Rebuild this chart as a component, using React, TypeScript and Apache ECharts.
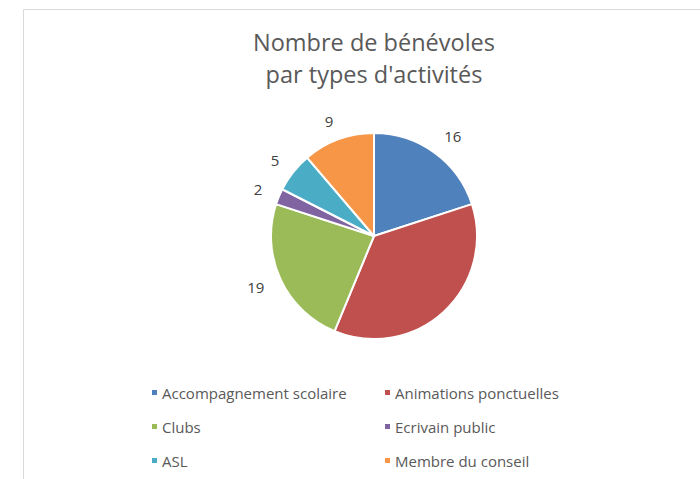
import React, { useEffect, useRef } from "react";
import * as echarts from "echarts";

const categories = [
  "Accompagnement scolaire",
  "Animations ponctuelles",
  "Clubs",
  "Ecrivain public",
  "ASL",
  "Membre du conseil",
];
const values = [16, 29, 19, 2, 5, 9];
const showLabel = [true, false, true, true, true, true];
const colors = ["#4F81BD", "#C0504D", "#9BBB59", "#8064A2", "#4BACC6", "#F79646"];
const titleText = "Nombre de bénévoles\npar types d'activités";

export default function App() {
  const ref = useRef<HTMLDivElement>(null);
  useEffect(() => {
    if (!ref.current) return;
    const chart = echarts.init(ref.current, undefined, { renderer: "svg" });
    const font = "'Open Sans', sans-serif";
    const legendBase = {
      orient: "vertical",
      itemWidth: 7,
      itemHeight: 7,
      itemGap: 19,
      icon: "rect",
      textStyle: { color: "#595959", fontSize: 15, fontFamily: font, padding: [0, 0, 0, -1] },
      top: 380,
    };
    chart.setOption({
      animation: false,
      color: colors,
      backgroundColor: "#ffffff",
      title: {
        text: titleText,
        left: 369,
        textAlign: "center",
        top: 21,
        textStyle: {
          color: "#595959",
          fontSize: 23.5,
          fontWeight: "normal",
          fontFamily: font,
          lineHeight: 32,
        },
      },
      graphic: [
        {
          type: "rect",
          shape: { x: 23.5, y: 9.5, width: 700, height: 500 },
          style: { fill: "none", stroke: "#d9d9d9", lineWidth: 1 },
          silent: true,
        },
      ],
      legend: [
        { ...legendBase, left: 145, data: [categories[0], categories[2], categories[4]] },
        { ...legendBase, left: 378, data: [categories[1], categories[3], categories[5]] },
      ],
      series: [
        {
          type: "pie",
          center: [374, 236],
          radius: 103,
          startAngle: 90,
          clockwise: true,
          avoidLabelOverlap: false,
          itemStyle: { borderColor: "#ffffff", borderWidth: 2 },
          label: {
            show: true,
            position: "outside",
            color: "#404040",
            fontSize: 15,
            fontFamily: font,
            formatter: "{c}",
          },
          labelLine: { show: false, length: 20, length2: -7 },
          emphasis: { disabled: true },
          data: categories.map((name, i) => ({
            name,
            value: values[i],
            label: { show: showLabel[i] },
          })),
        },
      ],
    });
    return () => chart.dispose();
  }, []);
  return (
    <div
      ref={ref}
      style={{ position: "fixed", left: 0, top: 0, width: 700, height: 479 }}
    />
  );
}
